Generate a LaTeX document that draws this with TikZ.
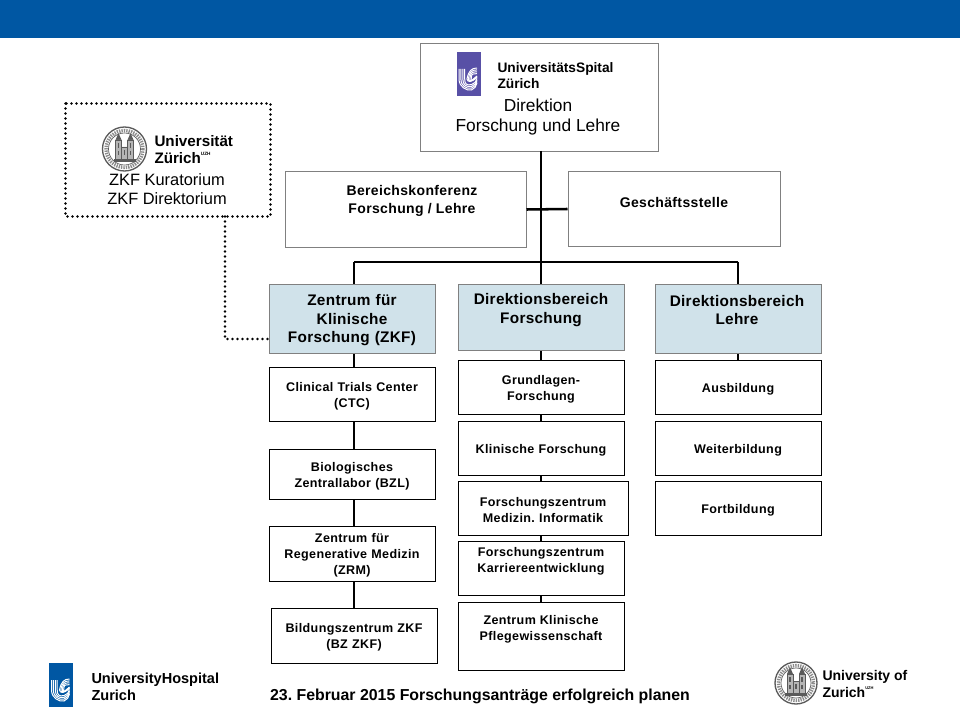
\documentclass[tikz,border=0pt]{standalone}
\usepackage{fontspec}
\setmainfont{Liberation Sans}
\frenchspacing
\definecolor{bandblue}{RGB}{0,87,163}
\definecolor{headblue}{RGB}{208,226,234}
\definecolor{framegrey}{RGB}{128,128,128}
\definecolor{uspurple}{RGB}{88,80,166}
\definecolor{sealgrey}{RGB}{90,90,90}
\newcommand{\boxfont}{\fontsize{9.4}{12.2}\selectfont\bfseries\addfontfeature{LetterSpace=3}}
\newcommand{\headfont}{\fontsize{11.5}{13.9}\selectfont\bfseries\addfontfeature{LetterSpace=2}}
\newcommand{\topfont}{\fontsize{10.5}{14}\selectfont\bfseries\addfontfeature{LetterSpace=2.5}}
\tikzset{every picture/.style={line width=0.75pt},
	box/.style={draw=black,fill=white,line width=0.75pt,rectangle,inner sep=0pt,text width=120pt,align=center,font=\boxfont,execute at begin node={\rule{0pt}{9pt}}},
	topbox/.style={draw=framegrey,fill=white,line width=0.75pt,rectangle,inner sep=0pt},
	headbox/.style={draw=framegrey,fill=headblue,line width=0.75pt,rectangle,inner sep=0pt,text width=120pt,align=center,font=\headfont,execute at begin node={\rule{0pt}{10.6pt}}},
	boxtext/.style={inner sep=0pt,align=center,font=\boxfont},
	toptext/.style={inner sep=0pt,align=center,font=\topfont},
	headtext/.style={inner sep=0pt,align=center,font=\headfont},
	plaintext/.style={inner sep=0pt,align=center,font=\fontsize{12.3}{14.2}\selectfont},
	logotext/.style={inner sep=0pt,anchor=west,align=left,font=\bfseries},
	link/.style={draw=black,line width=1.9pt},
	dotlink/.style={draw=black,line width=2.2pt,line cap=round,dash pattern=on 0pt off 3.75pt},
	swirl/.pic={
		\fill [fill=#1] (-12,-22) rectangle (12,22);
		\foreach \k in {0,1,2,3}{
			\draw [white,line width=0.75pt] (-9.5+1.9*\k,-5) -- (-9.5+1.9*\k,5) .. controls (-9.5+1.9*\k,13-\k) and (-2,17-1.8*\k) .. (3,16-1.8*\k) .. controls (6,15-1.8*\k) and (8,12-1.5*\k) .. (8.5,9-1.5*\k);
			\draw [white,line width=0.75pt] (8.5,-6+1.9*\k) .. controls (3,-6+1.9*\k) and (0+\k,-3+\k) .. (-1.5+1.4*\k,5) .. controls (-1+\k,8) and (2,9-\k/2) .. (8.5,3.5-\k/2);
		}
	},
	seal/.pic={
		\draw [sealgrey,line width=1pt] (0,0) circle [radius=#1];
		\draw [sealgrey!70,line width=2.6pt,dash pattern=on 1pt off 0.8pt] (0,0) circle [radius=#1-3.5];
		\draw [sealgrey,line width=0.5pt] (0,0) circle [radius=#1-6];
		\fill [sealgrey] (-9,-9) -- (-6,-16) -- (-3,-9) -- cycle (3,-9) -- (6,-16) -- (9,-9) -- cycle;
		\draw [sealgrey,fill=sealgrey!45,line width=0.5pt] (-9,-9) rectangle (-3,10) (3,-9) rectangle (9,10) (-3,-2) rectangle (3,10);
		\draw [sealgrey,line width=0.8pt] (-6,-6) -- (-6,-1) (6,-6) -- (6,-1) (-6,2) -- (-6,6) (6,2) -- (6,6) (0,1) -- (0,6);
		\fill [sealgrey] (-11,10) rectangle (11,13);
	}}

\begin{document}
\begin{tikzpicture}[x=0.75pt,y=0.75pt,yscale=-1,xscale=1]
	\path [use as bounding box] (0,0) rectangle (960,720);

	% band
	\fill [bandblue] (0,0) rectangle (960,38);

	% boxes
	\node (dir) [topbox,minimum width=178.5pt,minimum height=81pt] at (539,97.5) {};
	\node (bk) [topbox,minimum width=180.75pt,minimum height=57pt] at (405.5,209.5) {};
	\node (gs) [topbox,minimum width=159pt,minimum height=56.25pt] at (674,209) {};
	\node (kur) [minimum width=153pt,minimum height=84pt,inner sep=0pt] at (168,160) {};

	\node (zkf) [headbox,minimum width=124.5pt,minimum height=51.75pt] at (352,319) {Zentrum für\\Klinische\\Forschung (ZKF)};
	\node (dfo) [headbox,minimum width=124.5pt,minimum height=49.5pt] at (541,317.5) {};
	\node (dle) [headbox,minimum width=124.5pt,minimum height=51.75pt] at (738,319) {};

	\node (ctc) [box,minimum width=124.5pt,minimum height=40.5pt] at (352,394.5) {Clinical Trials Center\\(CTC)};
	\node (bzl) [box,minimum width=124.5pt,minimum height=37.5pt] at (352,474.5) {Biologisches\\Zentrallabor (BZL)};
	\node (zrm) [box,minimum width=124.5pt,minimum height=41.25pt] at (352,554) {Zentrum für\\Regenerative Medizin\\(ZRM)};
	\node (bzk) [box,minimum width=124.5pt,minimum height=41.25pt] at (354,636) {Bildungszentrum ZKF\\(BZ ZKF)};

	\node (gru) [box,minimum width=124.5pt,minimum height=40.5pt] at (541,387.5) {Grundlagen-\\Forschung};
	\node (kli) [box,minimum width=124.5pt,minimum height=40.5pt] at (541,448.5) {Klinische Forschung};
	\node (inf) [box,minimum width=127.5pt,minimum height=40.5pt] at (543,508.5) {Forschungszentrum\\Medizin.\ Informatik};
	\node (kar) [box,minimum width=124.5pt,minimum height=40.5pt] at (541,568.5) {};
	\node (pfl) [box,minimum width=124.5pt,minimum height=51pt] at (541,636.5) {};

	\node (aus) [box,minimum width=124.5pt,minimum height=40.5pt] at (738,387.5) {Ausbildung};
	\node (wei) [box,minimum width=124.5pt,minimum height=40.5pt] at (738,448.5) {Weiterbildung};
	\node (fort) [box,minimum width=124.5pt,minimum height=40.5pt] at (738,508.5) {Fortbildung};

	% connectors
	\coordinate (top) at (541,151);
	\coordinate (mid) at (541,262);
	\coordinate (midl) at (354,262);
	\coordinate (midr) at (738,262);
	\draw [link] (top) -- (dfo.north);
	\draw [link] (midl) -- (midr);
	\draw [link] (bk.east) -- (gs.west);
	\draw [link] (midl) -- (midl |- zkf.north);
	\draw [link] (midr) -- (dle.north);
	\draw [link] (midl |- zkf.south) -- (midl |- ctc.north);
	\draw [link] (midl |- ctc.south) -- (midl |- bzl.north);
	\draw [link] (midl |- bzl.south) -- (midl |- zrm.north);
	\draw [link] (midl |- zrm.south) -- (midl |- bzk.north);
	\draw [link] (dfo.south) -- (gru.north);
	\draw [link] (gru.south) -- (kli.north);
	\draw [link] (kli.south) -- (mid |- inf.north);
	\draw [link] (mid |- inf.south) -- (kar.north);
	\draw [link] (kar.south) -- (pfl.north);
	\draw [link] (dle.south) -- (aus.north);

	% dotted frame and link
	\draw [dotlink] (kur.north west) rectangle (kur.south east);
	\coordinate (dotturn) at (225,339);
	\draw [dotlink] (dotturn |- kur.south) -- (dotturn) -- (dotturn -| zkf.west);

	% Text Node
	\node (dirt) [plaintext,font=\fontsize{13}{14.4}\selectfont] at (538,117) {Direktion\\Forschung und Lehre};
	\node (bkt) [toptext] at (412,201) {Bereichskonferenz\\Forschung / Lehre};
	\node (gst) [toptext] at (674,202) {Geschäftsstelle};
	\node (dfot) [headtext] at (541,310) {Direktionsbereich\\Forschung};
	\node (dlet) [headtext] at (737,310) {Direktionsbereich\\Lehre};
	\node (kart) [boxtext] at (541,561.5) {Forschungszentrum\\Karriereentwicklung};
	\node (pflt) [boxtext] at (541,629.5) {Zentrum Klinische\\Pflegewissenschaft};
	\node (kurt) [plaintext] at (167,189.5) {ZKF Kuratorium\\ZKF Direktorium};
	\node (foot) [inner sep=0pt,font=\fontsize{11.9}{13}\selectfont\bfseries] at (480,696.5) {23. Februar 2015 Forschungsanträge erfolgreich planen};

	% logos
	\pic [transform shape] at (468.5,74) {swirl=uspurple};
	\node (uslogo) [logotext,font=\fontsize{10.3}{12}\selectfont\bfseries] at (497,76) {UniversitätsSpital\\Zürich};
	\pic [transform shape] at (124.5,149) {seal=22};
	\node (uzhlogo) [logotext,font=\fontsize{11.4}{12.8}\selectfont\bfseries] at (154,150) {Universität\\Zürich\raisebox{1.1ex}{\fontsize{3.5}{4}\selectfont UZH}};
	\pic [transform shape] at (61,685) {swirl=bandblue};
	\node (uhlogo) [logotext,font=\fontsize{10.9}{12.6}\selectfont\bfseries] at (91,687) {UniversityHospital\\Zurich};
	\pic [transform shape] at (796,683) {seal=21};
	\node (uzlogo) [logotext,font=\fontsize{10.5}{12.8}\selectfont\bfseries] at (822,684) {University of\\Zurich\raisebox{1.1ex}{\fontsize{3}{4}\selectfont UZH}};

\end{tikzpicture}
\end{document}
